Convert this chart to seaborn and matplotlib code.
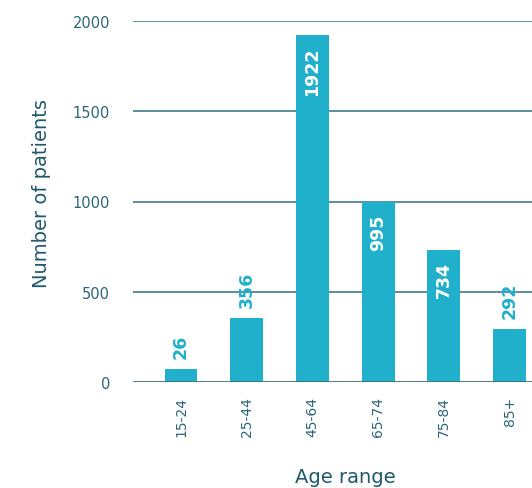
import matplotlib
matplotlib.use("Agg")
import matplotlib.pyplot as plt
import seaborn as sns
import pandas as pd
import numpy as np

categories = ["15-24", "25-44", "45-64", "65-74", "75-84", "85+"]
patients = [26, 356, 1922, 995, 734, 292]
y_ticks = [0, 500, 1000, 1500, 2000]

MIN_VISIBLE = 72  # small bars are drawn with a minimum visible height
BAR_COLOR = "#21b0cb"
TEXT_COLOR = "#2b6677"
GRID_COLOR = "#4f8593"

sns.set_theme(style="white")
plt.rcParams["font.family"] = ["DejaVu Sans"]

df = pd.DataFrame({"age": categories, "n": patients})
df["h"] = np.maximum(df["n"], MIN_VISIBLE)

fig = plt.figure(figsize=(5.32, 4.89), dpi=100)
ax = fig.add_axes([133 / 532, 106 / 489, (532 - 133) / 532, (383 - 22) / 489])

ax.set_axisbelow(True)
for t in y_ticks[1:]:
    ax.axhline(t, color=GRID_COLOR, lw=1.3, zorder=0)

sns.barplot(data=df, x="age", y="h", color=BAR_COLOR, width=0.5, saturation=1,
            linewidth=0, ax=ax, zorder=2)
ax.axhline(0, color="#3e6f7c", lw=2, zorder=3)

ax.set_xlim(-0.73, 5.34)
ax.set_ylim(0, 2000)
ax.set_yticks(y_ticks)
ax.set_yticklabels([str(t) for t in y_ticks], fontsize=10.5, color=TEXT_COLOR)
ax.tick_params(axis="y", length=0, pad=16.5)
ax.tick_params(axis="x", length=0, pad=10, labelrotation=90, labelsize=10,
               labelcolor=TEXT_COLOR)
for s in ax.spines.values():
    s.set_visible(False)

ax.set_xlabel("Age range", fontsize=14, color="#1f5a6a", va="center")
ax.set_ylabel("Number of patients", fontsize=14, color="#1f5a6a", va="center")
ax.xaxis.set_label_coords((345 - 133) / (532 - 133), -(478 - 383) / (383 - 22))
ax.yaxis.set_label_coords(-(133 - 42) / (532 - 133), (383 - 194) / (383 - 22))

for i, (n, h) in enumerate(zip(df["n"], df["h"])):
    if n >= 600:
        ax.annotate(str(n), (i, h), xytext=(0, -8), textcoords="offset points",
                    rotation=90, ha="center", va="top", color="white",
                    fontsize=12.5, fontweight="bold", zorder=4)
    else:
        ax.annotate(str(n), (i, h), xytext=(0, 8), textcoords="offset points",
                    rotation=90, ha="center", va="bottom", color=BAR_COLOR,
                    fontsize=12.5, fontweight="bold", zorder=4)

fig.savefig("out.png", dpi=100)
